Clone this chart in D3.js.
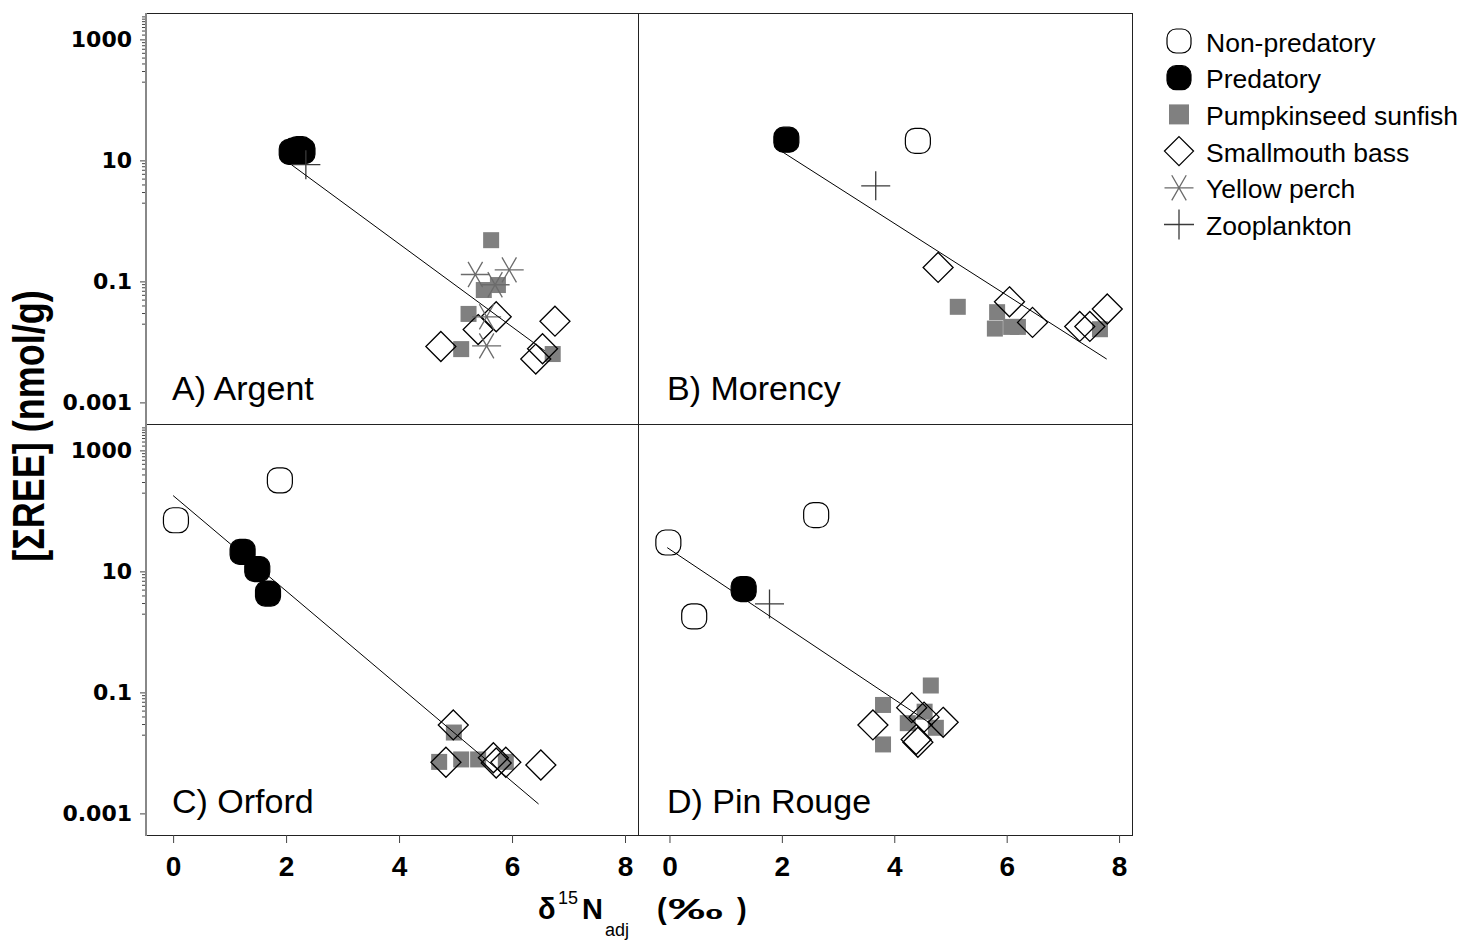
<!DOCTYPE html>
<html>
  <head>
    <meta charset="utf-8">
    <title>REE vs d15N</title>
    <script src="https://d3js.org/d3.v7.min.js"></script>
    <style>
      body { margin: 0; background: #fff; }
      text { font-family: "Liberation Sans", Arial, sans-serif; }
      .ytick text { font-family: "DejaVu Sans", sans-serif; font-weight: bold; }
    </style>
  </head>

  <body>
    <div class="chart"></div>

    <script>
      // panels A, B on top, C, D below
      var panelNames = ["A) Argent", "B) Morency", "C) Orford", "D) Pin Rouge"];

      // points are [d15N adj, sum REE nmol/g], one list per panel
      var nonPredatory = [
        [],
        [[4.42, 21]],
        [[0.05, 70], [1.89, 320]],
        [[-0.02, 30], [2.61, 85], [0.44, 1.8]]
      ];
      var predatory = [
        [[2.1, 13.8], [2.17, 14.6], [2.24, 15.3], [2.29, 14.2]],
        [[2.08, 22]],
        [[1.23, 21], [1.49, 10.9], [1.68, 4.3]],
        [[1.32, 5.1]]
      ];
      var pumpkinseed = [
        [[5.63, 0.48], [5.5, 0.072], [5.75, 0.087], [5.23, 0.029], [5.1, 0.0076], [6.72, 0.0063]],
        [[5.13, 0.038], [5.83, 0.031], [5.79, 0.0166], [6.08, 0.0177], [6.2, 0.0177], [7.66, 0.0162]],
        [[4.97, 0.0217], [4.71, 0.0071], [5.1, 0.0078], [5.4, 0.0078], [5.89, 0.0071]],
        [[4.65, 0.13], [3.8, 0.062], [4.54, 0.048], [4.24, 0.031], [4.74, 0.026], [3.8, 0.0138]]
      ];
      var smallmouth = [
        [[4.74, 0.0084], [5.4, 0.016], [5.72, 0.026], [6.76, 0.022], [6.54, 0.0077], [6.42, 0.0052]],
        [[4.78, 0.17], [6.05, 0.046], [6.46, 0.021], [7.3, 0.018], [7.48, 0.018], [7.79, 0.035]],
        [[4.96, 0.029], [4.83, 0.007], [5.67, 0.0083], [5.72, 0.0068], [5.89, 0.007], [6.51, 0.0063]],
        [[3.62, 0.029], [4.31, 0.056], [4.53, 0.039], [4.87, 0.032], [4.42, 0.015], [4.39, 0.0166]]
      ];
      var yellowPerch = [
        [[5.35, 0.13], [5.95, 0.155], [5.7, 0.088], [5.55, 0.026], [5.55, 0.0086]],
        [],
        [],
        []
      ];
      var zooplankton = [
        [[2.35, 8.5]],
        [[3.67, 3.8]],
        [],
        [[1.78, 2.9]]
      ];
      // regression lines, start and end point
      var fitLines = [
        [[2.1, 8.4], [6.58, 0.0071]],
        [[2.0, 14], [7.78, 0.0052]],
        [[0.0, 179], [6.47, 0.00143]],
        [[-0.04, 24.7], [4.69, 0.0286]]
      ];

      var xTicks = [0, 2, 4, 6, 8];
      var yTicks = [0.001, 0.1, 10, 1000];
      var yTickLabels = ["0.001", "0.1", "10", "1000"];
      var yMinor = [0.02, 0.03, 0.04, 0.05, 0.06, 0.07, 0.08, 0.09,
                    2, 3, 4, 5, 6, 7, 8, 9,
                    200, 300, 400, 500, 600, 700, 800, 900,
                    1200, 1400, 1600, 1800, 2000, 2200, 2400];
      var legendNames = ["Non-predatory", "Predatory", "Pumpkinseed sunfish", "Smallmouth bass", "Yellow perch", "Zooplankton"];
      var legendKinds = ["nonpred", "pred", "pumpkin", "bass", "perch", "zoo"];

      var svg = d3.select("div.chart").append("svg")
        .attr("width", 1463)
        .attr("height", 944);

      var cols = [[146, 638], [638, 1132]];
      var rows = [[13, 424], [424, 835]];
      var xDomains = [[-0.48, 8.23], [-0.56, 8.23]];
      var yDomain = [Math.pow(10, -3.357), Math.pow(10, 3.436)];

      function shapePath(kind, s) {
        var h = s / 2;
        if (kind == "bass") return "M0," + (-h) + "L" + h + ",0L0," + h + "L" + (-h) + ",0Z";
        if (kind == "perch") {
          var a = h / 2, b = h * 0.866;
          return "M" + (-h) + ",0H" + h + "M" + (-a) + "," + (-b) + "L" + a + "," + b + "M" + a + "," + (-b) + "L" + (-a) + "," + b;
        }
        return "M" + (-h) + ",0H" + h + "M0," + (-h) + "V" + h;  // zooplankton
      }

      function addMarks(g, pts, x, y, kind, s) {
        var sel = g.selectAll(null).data(pts).enter();
        if (kind == "nonpred" || kind == "pred") {
          sel.append("rect")
            .attr("x", function (d) { return x(d[0]) - s / 2; })
            .attr("y", function (d) { return y(d[1]) - s / 2; })
            .attr("width", s).attr("height", s)
            .attr("rx", s * 0.38)
            .attr("fill", kind == "pred" ? "#000" : "#fff")
            .attr("stroke", "#000")
            .attr("stroke-width", 1.2);
        } else if (kind == "pumpkin") {
          sel.append("rect")
            .attr("x", function (d) { return x(d[0]) - s / 2; })
            .attr("y", function (d) { return y(d[1]) - s / 2; })
            .attr("width", s).attr("height", s)
            .attr("fill", "#808080");
        } else {
          sel.append("path")
            .attr("transform", function (d) { return "translate(" + x(d[0]) + "," + y(d[1]) + ")"; })
            .attr("d", shapePath(kind, s))
            .attr("fill", "none")
            .attr("stroke", kind == "bass" ? "#000" : (kind == "perch" ? "#6b6b6b" : "#3a3a3a"))
            .attr("stroke-width", 1.3);
        }
      }

      panelNames.forEach(function (name, i) {
        var c = i % 2, r = Math.floor(i / 2);
        var x = d3.scaleLinear().domain(xDomains[c]).range(cols[c]);
        var y = d3.scaleLog().domain(yDomain).range([rows[r][1], rows[r][0]]);
        var g = svg.append("g");

        //frame
        g.append("rect")
          .attr("x", cols[c][0] + 0.5).attr("y", rows[r][0] + 0.5)
          .attr("width", cols[c][1] - cols[c][0]).attr("height", rows[r][1] - rows[r][0])
          .attr("fill", "none").attr("stroke", "#222").attr("stroke-width", 1);

        addMarks(g, nonPredatory[i], x, y, "nonpred", 25);
        addMarks(g, predatory[i], x, y, "pred", 25);
        addMarks(g, pumpkinseed[i], x, y, "pumpkin", 16);
        addMarks(g, smallmouth[i], x, y, "bass", 30);
        addMarks(g, yellowPerch[i], x, y, "perch", 29);
        addMarks(g, zooplankton[i], x, y, "zoo", 29);

        g.append("path")
          .datum(fitLines[i])
          .attr("d", d3.line().x(function (d) { return x(d[0]); }).y(function (d) { return y(d[1]); }))
          .attr("fill", "none").attr("stroke", "#000").attr("stroke-width", 1);

        g.append("text")
          .attr("x", cols[c][0] + (c == 0 ? 26 : 29))
          .attr("y", rows[r][1] - (r == 0 ? 24 : 22))
          .attr("font-size", 34)
          .text(name);

        // y axis on the left column
        if (c == 0) {
          var gm = svg.append("g").attr("transform", "translate(146,0)")
            .call(d3.axisLeft(y).tickValues(yMinor).tickSize(4).tickSizeOuter(0).tickFormat(""));
          gm.select(".domain").remove();
          gm.selectAll("line").attr("stroke", "#444");
          var ga = svg.append("g").attr("class", "ytick").attr("transform", "translate(146,0)")
            .call(d3.axisLeft(y).tickValues(yTicks).tickSize(6).tickSizeOuter(0).tickPadding(8)
              .tickFormat(function (d, k) { return yTickLabels[k]; }));
          ga.select(".domain").remove();
          ga.selectAll("line").attr("stroke", "#444");
          ga.selectAll("text")
            .attr("font-size", 22)
            .attr("fill", "#000");
        }
        // x axis on the bottom row
        if (r == 1) {
          var gx = svg.append("g").attr("transform", "translate(0," + rows[r][1] + ")")
            .call(d3.axisBottom(x).tickValues(xTicks).tickSize(8).tickSizeOuter(0).tickPadding(13));
          gx.select(".domain").remove();
          gx.selectAll("line").attr("stroke", "#444");
          gx.selectAll("text")
            .attr("font-weight", "bold")
            .attr("font-size", 28)
            .attr("fill", "#000");
        }
      });

      // grey left axis line
      svg.append("line")
        .attr("x1", 146).attr("x2", 146)
        .attr("y1", 13).attr("y2", 836)
        .attr("stroke", "#888").attr("stroke-width", 2);

      // axis titles
      svg.append("text")
        .attr("transform", "translate(44,426) rotate(-90) scale(0.8,1)")
        .attr("text-anchor", "middle")
        .attr("font-weight", "bold")
        .attr("font-size", 45)
        .text("[ΣREE] (nmol/g)");

      var xt = svg.append("g").attr("font-weight", "bold");
      xt.append("text").attr("x", 538).attr("y", 919).attr("font-size", 29).text("δ");
      xt.append("text").attr("x", 558).attr("y", 904).attr("font-size", 18).attr("font-weight", "normal").text("15");
      xt.append("text").attr("x", 582).attr("y", 919).attr("font-size", 29).text("N");
      xt.append("text").attr("x", 605).attr("y", 936).attr("font-size", 18).attr("font-weight", "normal").text("adj");
      xt.append("text").attr("x", 657).attr("y", 919).attr("font-size", 29).text("(");
      xt.append("text").attr("x", 668).attr("y", 919).attr("font-size", 29)
        .attr("textLength", 55).attr("lengthAdjust", "spacingAndGlyphs").text("‰");
      xt.append("text").attr("x", 737).attr("y", 919).attr("font-size", 29).text(")");

      // legend
      var leg = svg.append("g");
      legendNames.forEach(function (n, i) {
        var cy = 41 + i * 36.7;
        var sizes = {nonpred: 24, pred: 24, pumpkin: 20, bass: 29, perch: 29, zoo: 30};
        addMarks(leg, [[0, 0]], function () { return 1179; }, function () { return cy; }, legendKinds[i], sizes[legendKinds[i]]);
        leg.append("text")
          .attr("x", 1206)
          .attr("y", cy + 10.5)
          .attr("font-size", 26.5)
          .text(n);
      });
    </script>

  </body>
</html>
